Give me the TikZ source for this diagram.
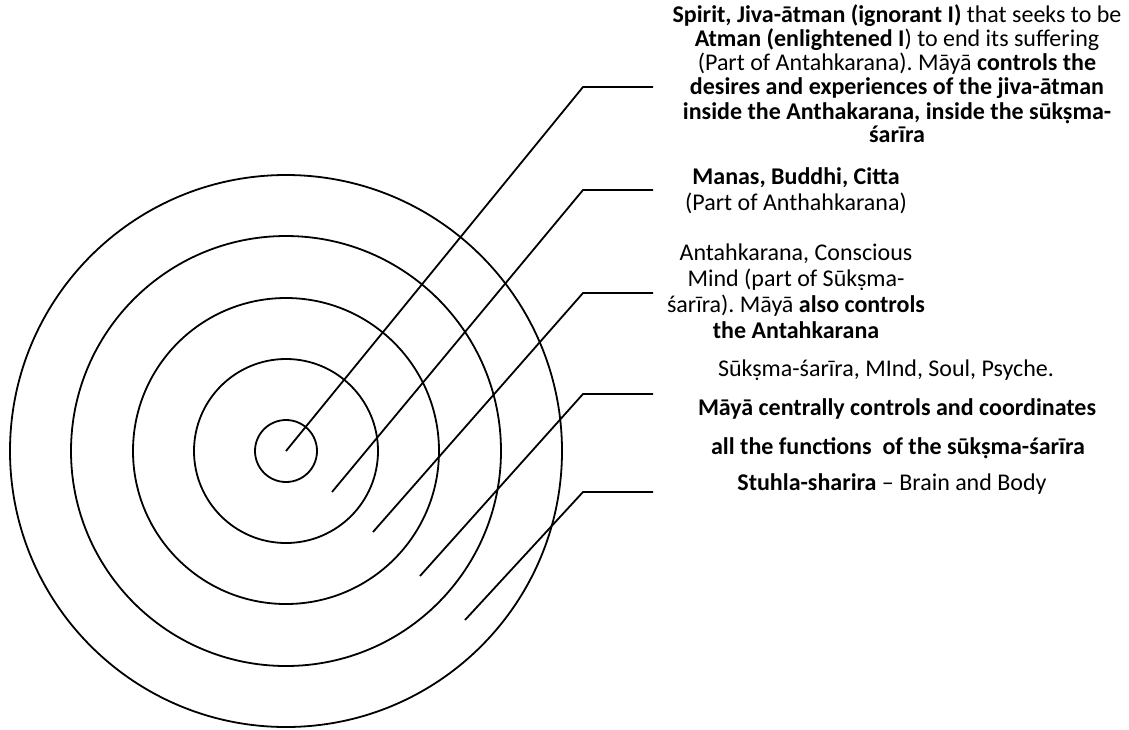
\documentclass[tikz,border=0pt]{standalone}
\usepackage{fontspec}
\setmainfont{Carlito}
\frenchspacing
\begin{document}
\begin{tikzpicture}[x=1pt,y=-1pt,
  ring/.style={line width=1.8pt},
  leader/.style={line width=1.8pt, line join=miter},
  lbl/.style={anchor=base, inner sep=0pt, font=\fontsize{24}{24}\selectfont}]
\useasboundingbox (0,0) rectangle (1129,729);
\coordinate (c) at (286,451);
\draw[ring] (c) circle[radius=31pt];
\draw[ring] (c) circle[radius=92pt];
\draw[ring] (c) circle[radius=153pt];
\draw[ring] (c) circle[radius=215pt];
\draw[ring] (c) circle[radius=276pt];
% leader points
\coordinate (a1) at (286,451); \coordinate (b1) at (583,87);  \coordinate (h1) at (653,87);
\coordinate (a2) at (332,492); \coordinate (b2) at (583,190); \coordinate (h2) at (653,190);
\coordinate (a3) at (373,532); \coordinate (b3) at (583,293); \coordinate (h3) at (653,293);
\coordinate (a4) at (420,576); \coordinate (b4) at (583,394); \coordinate (h4) at (653,394);
\coordinate (a5) at (465,620); \coordinate (b5) at (583,492); \coordinate (h5) at (653,492);
\draw[leader] (a1) -- (b1) -- (h1);
\draw[leader] (a2) -- (b2) -- (h2);
\draw[leader] (a3) -- (b3) -- (h3);
\draw[leader] (a4) -- (b4) -- (h4);
\draw[leader] (a5) -- (b5) -- (h5);
% block 1
\node[lbl] (t1a) at (897,22)  {\textbf{Spirit, Jiva-ātman (ignorant I)} that seeks to be};
\node[lbl] (t1b) at (897,46)  {\textbf{Atman (enlightened I}) to end its suffering};
\node[lbl] (t1c) at (897,70)  {(Part of Antahkarana). Māyā \textbf{controls the}};
\node[lbl] (t1d) at (897,94)  {\textbf{desires and experiences of the jiva-ātman}};
\node[lbl] (t1e) at (897,119) {\textbf{inside the Anthakarana, inside the sūkṣma-}};
\node[lbl] (t1f) at (897,142) {\textbf{śarīra}};
% block 2
\node[lbl] (t2a) at (796,184) {\textbf{Manas, Buddhi, Citta}};
\node[lbl] (t2b) at (796,210) {(Part of Anthahkarana)};
% block 3
\node[lbl] (t3a) at (796,260) {Antahkarana, Conscious};
\node[lbl] (t3b) at (796,286) {Mind (part of Sūkṣma-};
\node[lbl] (t3c) at (796,312) {śarīra). Māyā \textbf{also controls}};
\node[lbl] (t3d) at (796,338) {\textbf{the Antahkarana}};
% block 4
\node[lbl] (t4a) at (886,376) {Sūkṣma-śarīra, MInd, Soul, Psyche.};
\node[lbl] (t4b) at (897,415) {\textbf{Māyā centrally controls and coordinates}};
\node[lbl] (t4c) at (898,454) {\textbf{all the functions~ of the sūkṣma-śarīra}};
\node[lbl] (t4d) at (892,490) {\textbf{Stuhla-sharira} – Brain and Body};
\end{tikzpicture}
\end{document}
